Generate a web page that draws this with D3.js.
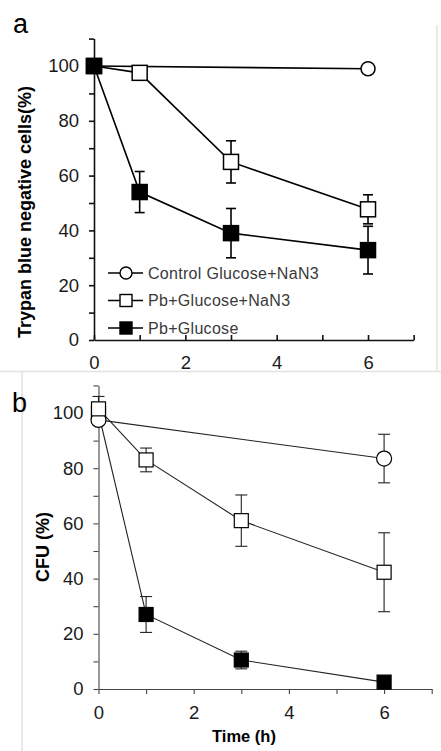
<!DOCTYPE html>
<html>
<head>
<meta charset="utf-8">
<script src="https://cdn.jsdelivr.net/npm/d3@7"></script>
<style>
  body { margin: 0; background: #fff; }
  svg { display: block; font-family: 'Liberation Sans', Arial, sans-serif; }
</style>
</head>
<body>
<svg id="chart" width="441" height="751"></svg>
<script>
// time points (h) shared by both panels
const hours = [0, 1, 3, 6]
const seriesNames = ['Control Glucose+NaN3', 'Pb+Glucose+NaN3', 'Pb+Glucose']

// panel a : trypan blue negative cells (%)
const trypanControl = [100, null, null, 99]
const trypanControlErr = [0, 0, 0, 0]
const trypanPbNaN3 = [100, 97.5, 65, 47.7]
const trypanPbNaN3Err = [0, 0, 7.7, 5.3]
const trypanPb = [100, 54, 39, 32.8]
const trypanPbErr = [0, 7.5, 9, 8.7]

// panel b : CFU (%)
const cfuControl = [97.5, null, null, 83.5]
const cfuControlErr = [0, 0, 0, 8.8]
const cfuPbNaN3 = [101.5, 83, 61, 42.3]
const cfuPbNaN3Err = [4.5, 4.3, 9.3, 14.3]
const cfuPb = [100, 27, 10.5, 2.5]
const cfuPbErr = [0, 6.5, 3.2, 0]

const xTickLabels = [0, 2, 4, 6]
const yTickLabels = [0, 20, 40, 60, 80, 100]

const svg = d3.select('#chart')

/**
 * Turns value / error arrays into point objects, skipping missing values.
 */
function toPoints (values, errors) {
  return hours
    .map((h, i) => ({ h: h, v: values[i], e: errors[i] }))
    .filter((d) => d.v !== null)
}

/**
 * Draws one panel : axes, lines, error bars and markers.
 */
function drawPanel (cfg) {
  const x = d3.scaleLinear().domain([0, 7]).range(cfg.xRange)
  const y = d3.scaleLinear().domain([0, 110]).range([cfg.y0, cfg.y0 - 110 * cfg.k])
  const g = svg.append('g')

  const xAxis = d3.axisBottom(x)
    .tickValues(d3.range(0, 8))
    .tickSizeInner(cfg.xTick)
    .tickSizeOuter(0)
    .tickPadding(cfg.xPad)
    .tickFormat((d) => xTickLabels.includes(d) ? d : '')
  const yAxis = d3.axisLeft(y)
    .tickValues(d3.range(0, 111, 10))
    .tickSizeInner(5)
    .tickSizeOuter(0)
    .tickPadding(cfg.yPad)
    .tickFormat((d) => yTickLabels.includes(d) ? d : '')

  const gx = g.append('g').attr('transform', 'translate(0,' + cfg.y0 + ')').call(xAxis)
  const gy = g.append('g').attr('transform', 'translate(' + x(0) + ',0)').call(yAxis)
  for (const a of [gx, gy]) {
    a.selectAll('path, line').attr('stroke', cfg.axisColor).attr('stroke-width', cfg.axisWidth)
    a.selectAll('text').attr('font-size', 18.5).attr('fill', '#1a1a1a')
      .attr('font-family', "'Liberation Sans', Arial, sans-serif")
  }

  const line = d3.line().x((d) => x(d.h)).y((d) => y(d.v))
  cfg.series.forEach((s) => {
    g.append('path')
      .datum(s.points)
      .attr('d', line)
      .attr('fill', 'none')
      .attr('stroke', cfg.lineColor)
      .attr('stroke-width', cfg.lineWidth)
  })

  // error bars
  cfg.series.forEach((s) => {
    const bars = g.append('g').selectAll('g')
      .data(s.points.filter((d) => d.e > 0))
      .join('g')
      .attr('stroke', cfg.lineColor)
      .attr('stroke-width', cfg.lineWidth)
    bars.append('line')
      .attr('x1', (d) => x(d.h)).attr('x2', (d) => x(d.h))
      .attr('y1', (d) => y(d.v + d.e)).attr('y2', (d) => y(d.v - d.e))
    for (const sign of [1, -1]) {
      bars.append('line')
        .attr('x1', (d) => x(d.h) - cfg.cap).attr('x2', (d) => x(d.h) + cfg.cap)
        .attr('y1', (d) => y(d.v + sign * d.e)).attr('y2', (d) => y(d.v + sign * d.e))
    }
  })

  // markers, in the given stacking order
  cfg.order.forEach((idx) => {
    const s = cfg.series[idx]
    const m = g.append('g').selectAll('.m')
      .data(s.points)
      .join(s.shape === 'circle' ? 'circle' : 'rect')
      .attr('fill', s.fill)
      .attr('stroke', '#000')
      .attr('stroke-width', cfg.markerStroke)
    if (s.shape === 'circle') {
      m.attr('cx', (d) => x(d.h)).attr('cy', (d) => y(d.v)).attr('r', cfg.radius)
    } else {
      m.attr('x', (d) => x(d.h) - cfg.half).attr('y', (d) => y(d.v) - cfg.half)
        .attr('width', cfg.half * 2).attr('height', cfg.half * 2)
    }
  })
  return { x, y }
}

const shapes = [
  { shape: 'circle', fill: '#fff' },
  { shape: 'square', fill: '#fff' },
  { shape: 'square', fill: '#000' }
]

// faint frame lines from the original scan
svg.append('line').attr('x1', 437).attr('x2', 437).attr('y1', 25).attr('y2', 371)
  .attr('stroke', '#e2e2e2').attr('stroke-width', 1.5)
svg.append('line').attr('x1', 0).attr('x2', 441).attr('y1', 371.5).attr('y2', 371.5)
  .attr('stroke', '#e2e2e2').attr('stroke-width', 1.5)
svg.append('line').attr('x1', 22).attr('x2', 22).attr('y1', 371).attr('y2', 751)
  .attr('stroke', '#e2e2e2').attr('stroke-width', 1.5)

// panel a
drawPanel({
  xRange: [94, 94 + 7 * 45.67],
  y0: 340,
  k: 2.74,
  xTick: -5,
  xPad: 16,
  yPad: 10,
  axisColor: '#111',
  axisWidth: 1.6,
  lineColor: '#000',
  lineWidth: 1.6,
  cap: 5,
  half: 7.5,
  radius: 7,
  markerStroke: 1.5,
  order: [0, 1, 2],
  series: [
    { ...shapes[0], points: toPoints(trypanControl, trypanControlErr) },
    { ...shapes[1], points: toPoints(trypanPbNaN3, trypanPbNaN3Err) },
    { ...shapes[2], points: toPoints(trypanPb, trypanPbErr) }
  ]
})

// panel b
drawPanel({
  xRange: [98.5, 98.5 + 7 * 47.6],
  y0: 689,
  k: 2.76,
  xTick: 5,
  xPad: 12,
  yPad: 10,
  axisColor: '#444',
  axisWidth: 1.1,
  lineColor: '#222',
  lineWidth: 1.1,
  cap: 6,
  half: 7,
  radius: 7.5,
  markerStroke: 1.2,
  order: [2, 0, 1],
  series: [
    { ...shapes[0], points: toPoints(cfuControl, cfuControlErr) },
    { ...shapes[1], points: toPoints(cfuPbNaN3, cfuPbNaN3Err) },
    { ...shapes[2], points: toPoints(cfuPb, cfuPbErr) }
  ]
})

// legend of panel a
const legend = svg.append('g').selectAll('g')
  .data(seriesNames)
  .join('g')
  .attr('transform', (d, i) => 'translate(0,' + (273 + i * 27.5) + ')')
legend.append('line')
  .attr('x1', 108).attr('x2', 143)
  .attr('stroke', '#000').attr('stroke-width', 1.5)
legend.each(function (d, i) {
  const el = d3.select(this)
  if (shapes[i].shape === 'circle') {
    el.append('circle').attr('cx', 126).attr('r', 6)
      .attr('fill', '#fff').attr('stroke', '#000').attr('stroke-width', 1.4)
  } else {
    el.append('rect').attr('x', 120).attr('y', -6).attr('width', 12).attr('height', 12)
      .attr('fill', shapes[i].fill).attr('stroke', '#000').attr('stroke-width', 1.4)
  }
})
legend.append('text')
  .attr('x', 148)
  .attr('dy', '0.36em')
  .attr('font-size', 16)
  .attr('letter-spacing', 0.3)
  .attr('fill', '#3a3a3a')
  .text((d) => d)

// panel letters and axis titles
svg.append('text').attr('x', 13).attr('y', 33).attr('font-size', 27).text('a')
svg.append('text').attr('x', 12).attr('y', 412).attr('font-size', 27).text('b')

svg.append('text')
  .attr('transform', 'translate(25,212) rotate(-90)')
  .attr('text-anchor', 'middle')
  .attr('dominant-baseline', 'central')
  .attr('font-size', 18)
  .attr('font-weight', 'bold')
  .text('Trypan blue negative cells(%)')

svg.append('text')
  .attr('transform', 'translate(43,547) rotate(-90)')
  .attr('text-anchor', 'middle')
  .attr('dominant-baseline', 'central')
  .attr('font-size', 18)
  .attr('font-weight', 'bold')
  .text('CFU (%)')

svg.append('text')
  .attr('x', 244).attr('y', 742)
  .attr('text-anchor', 'middle')
  .attr('font-size', 16.5)
  .attr('font-weight', 'bold')
  .text('Time (h)')
</script>
</body>
</html>
